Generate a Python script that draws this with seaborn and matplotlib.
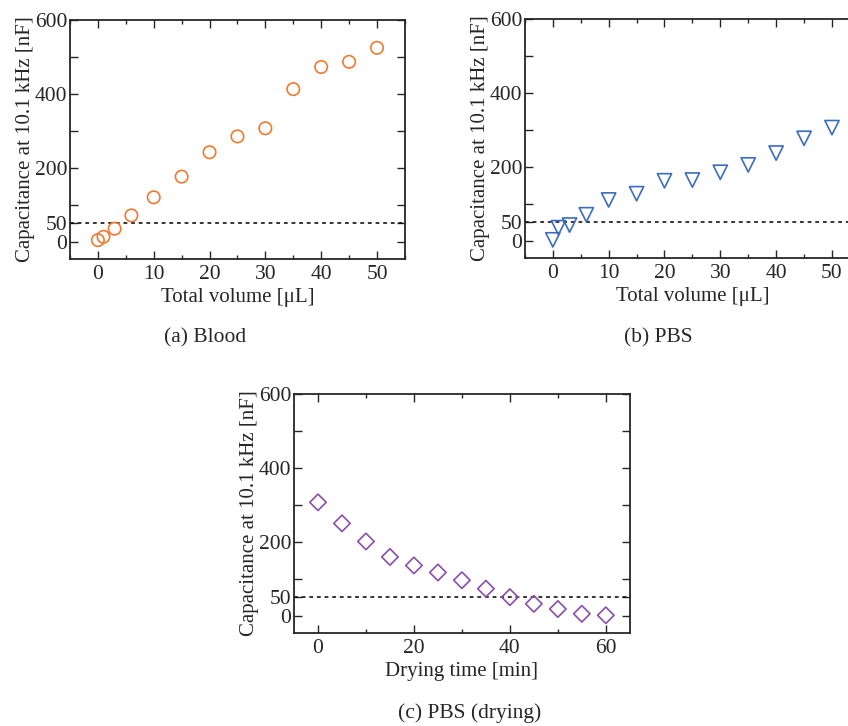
import numpy as np
import pandas as pd
import seaborn as sns
import matplotlib.pyplot as plt
from matplotlib.ticker import FixedLocator, MultipleLocator

# values
vol_blood = [0, 1, 3, 6, 10, 15, 20, 25, 30, 35, 40, 45, 50]
cap_blood = [4, 13, 35, 71, 120, 176, 242, 285, 307, 413, 473, 487, 525]

vol_pbs = [0, 1, 3, 6, 10, 15, 20, 25, 30, 35, 40, 45, 50]
cap_pbs = [2, 35, 42, 70, 110, 127, 162, 164, 185, 205, 237, 277, 306]

dry_time = [0, 5, 10, 15, 20, 25, 30, 35, 40, 45, 50, 55, 60]
cap_dry = [307, 250, 201, 159, 136, 117, 96, 73, 50, 32, 18, 5, 1]

threshold = 50
ylab = 'Capacitance at 10.1 kHz [nF]'

sns.set_style('ticks')
plt.rcParams['font.family'] = ['Liberation Serif', 'DejaVu Serif']

fig = plt.figure(figsize=(8.48, 7.26), dpi=100)
ax_a = fig.add_axes([0.0825, 0.6433, 0.395, 0.329])
ax_b = fig.add_axes([0.619, 0.6447, 0.395, 0.329])
ax_c = fig.add_axes([0.3467, 0.1281, 0.396, 0.329])


def style_ax(ax, xlim, xmajor, xminor, xlabel):
    ax.set_xlim(xlim)
    ax.set_ylim(-47, 600)
    ax.xaxis.set_major_locator(MultipleLocator(xmajor))
    ax.xaxis.set_minor_locator(MultipleLocator(xminor))
    yt = [0, 50, 100, 200, 300, 400, 500, 600]
    ax.yaxis.set_major_locator(FixedLocator(yt))
    ax.set_yticklabels(['0', '50', '', '200', '', '400', '', '600'])
    ax.tick_params(which='both', direction='in', top=True, right=True,
                   labelsize=15.5, width=1, pad=2)
    ax.tick_params(axis='x', pad=4)
    ax.tick_params(which='major', length=6)
    ax.tick_params(which='minor', length=3)
    for s in ax.spines.values():
        s.set_linewidth(1.3)
    ax.axhline(threshold, color='black', ls=(0, (2.5, 2.5)), lw=1.1, zorder=1)
    ax.set_xlabel(xlabel, fontsize=15, labelpad=3)
    ax.set_ylabel(ylab, fontsize=15, labelpad=0)


sns.scatterplot(x=vol_blood, y=cap_blood, ax=ax_a, marker='o', s=80,
                fc='none', ec='#F07A30', linewidth=1.2, zorder=3)
style_ax(ax_a, (-5, 55), 10, 5, 'Total volume [μL]')

sns.scatterplot(x=vol_pbs, y=cap_pbs, ax=ax_b, marker='v', s=105,
                fc='none', ec='#3C6CC0', linewidth=1.2, zorder=3)
style_ax(ax_b, (-5, 55), 10, 5, 'Total volume [μL]')

sns.scatterplot(x=dry_time, y=cap_dry, ax=ax_c, marker='D', s=70,
                fc='none', ec='#8A4FA8', linewidth=1.2, zorder=3)
style_ax(ax_c, (-5, 65), 20, 10, 'Drying time [min]')

fig.text(205 / 848, 1 - 338 / 726, '(a) Blood', ha='center', va='center', fontsize=15.5)
fig.text(658 / 848, 1 - 338 / 726, '(b) PBS', ha='center', va='center', fontsize=15.5)
fig.text(470 / 848, 1 - 713 / 726, '(c) PBS (drying)', ha='center', va='center', fontsize=15.5)

fig.savefig('out.png', dpi=100)
